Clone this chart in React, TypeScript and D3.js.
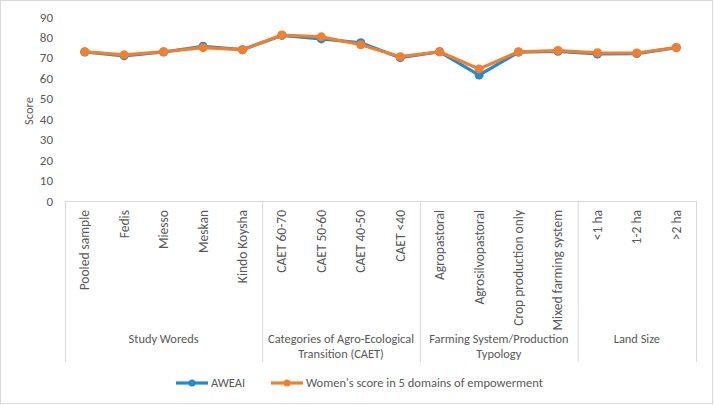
import React from "react";
import * as d3 from "d3";

const categories = [
  "Pooled sample", "Fedis", "Miesso", "Meskan", "Kindo Koysha",
  "CAET 60-70", "CAET 50-60", "CAET 40-50", "CAET <40",
  "Agropastoral", "Agrosilvopastoral", "Crop production only", "Mixed farming system",
  "<1 ha", "1-2 ha", ">2 ha",
];
const groups = [
  { lines: ["Study Woreds"], count: 5 },
  { lines: ["Categories of Agro-Ecological", "Transition (CAET)"], count: 4 },
  { lines: ["Farming System/Production", "Typology"], count: 4 },
  { lines: ["Land Size"], count: 3 },
];
const aweai = [72.9, 71.0, 72.9, 75.7, 74.0, 81.0, 79.3, 77.4, 70.1, 73.0, 61.6, 72.8, 73.2, 71.9, 72.1, 75.0];
const women5de = [73.0, 71.5, 73.0, 75.0, 74.0, 81.2, 80.3, 76.4, 70.6, 73.0, 64.6, 73.0, 73.6, 72.5, 72.4, 75.1];
const yTicks = [0, 10, 20, 30, 40, 50, 60, 70, 80, 90];

const W = 714, H = 405;
const left = 65, right = 696, top = 17, bottom = 201;
const BLUE = "#1f8bd2";
const ORANGE = "#f07f2e";
const FONT = "Calibri, Carlito, 'Open Sans', sans-serif";
const TXT = "#595959";

export default function App() {
  const x = d3.scaleBand<string>().domain(categories).range([left, right]).paddingInner(0).paddingOuter(0);
  const y = d3.scaleLinear().domain([0, 90]).range([bottom, top]);
  const line = d3.line<number>().x((_, i) => (x(categories[i]) as number) + x.bandwidth() / 2).y((d) => y(d));

  let acc = 0;
  const groupPos = groups.map((g) => {
    const start = acc;
    acc += g.count;
    const x0 = x(categories[start]) as number;
    const x1 = (x(categories[acc - 1]) as number) + x.bandwidth();
    return { ...g, x0, x1 };
  });

  const series = [
    { name: "AWEAI", values: aweai, color: BLUE, lx: 176 },
    { name: "Women's score in 5 domains of empowerment", values: women5de, color: ORANGE, lx: 271 },
  ];

  return (
    <svg width={W} height={H} style={{ position: "absolute", left: 0, top: 0 }} fontFamily={FONT}>
      <rect x={0.5} y={0.5} width={W - 2} height={H - 2} fill="#fff" stroke="#d9d9d9" />
      {yTicks.map((t) => (
        <text key={t} x={53} y={y(t)} dy="0.35em" textAnchor="end" fontSize={13} fill={TXT}>{t}</text>
      ))}
      <text transform={`translate(33,${(top + bottom) / 2 + 2}) rotate(-90)`} textAnchor="middle" fontSize={12.5} fill={TXT}>Score</text>
      <line x1={left} x2={right} y1={bottom + 0.5} y2={bottom + 0.5} stroke="#d9d9d9" />
      {groupPos.map((g, i) => (
        <line key={"d" + i} x1={g.x0 + 0.5} x2={g.x0 + 0.5} y1={bottom} y2={362} stroke="#d9d9d9" />
      ))}
      <line x1={right + 0.5} x2={right + 0.5} y1={bottom} y2={362} stroke="#d9d9d9" />
      {categories.map((c) => {
        const cx = (x(c) as number) + x.bandwidth() / 2;
        return (
          <text key={c} transform={`translate(${cx + 4.5},210) rotate(-90)`} textAnchor="end" fontSize={13.5} fill={TXT}>{c}</text>
        );
      })}
      {groupPos.map((g, i) => (
        <text key={"g" + i} x={(g.x0 + g.x1) / 2} y={343} textAnchor="middle" fontSize={12.4} fill={TXT}>
          {g.lines.map((l, j) => (
            <tspan key={j} x={(g.x0 + g.x1) / 2} dy={j === 0 ? 0 : 15}>{l}</tspan>
          ))}
        </text>
      ))}
      {series.map((s) => (
        <g key={s.name}>
          <path d={line(s.values) as string} fill="none" stroke={s.color} strokeWidth={3.2} strokeLinejoin="round" />
          {s.values.map((v, i) => (
            <circle key={i} cx={(x(categories[i]) as number) + x.bandwidth() / 2} cy={y(v)} r={4.5} fill={s.color} />
          ))}
        </g>
      ))}
      {series.map((s) => (
        <g key={"l" + s.name}>
          <line x1={s.lx} x2={s.lx + 32} y1={383} y2={383} stroke={s.color} strokeWidth={3.2} />
          <circle cx={s.lx + 16} cy={383} r={3.5} fill={s.color} />
          <text x={s.lx + 35} y={383} dy="0.35em" fontSize={12.5} fill={TXT}>{s.name}</text>
        </g>
      ))}
    </svg>
  );
}
